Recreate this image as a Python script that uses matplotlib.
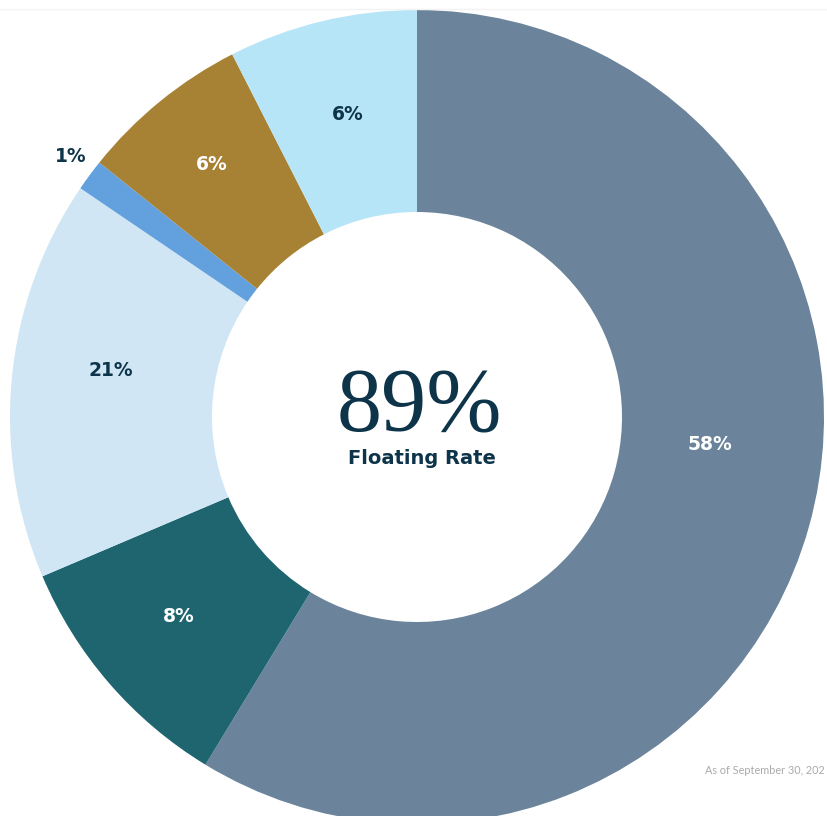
import matplotlib
matplotlib.use("Agg")
import matplotlib.pyplot as plt
from matplotlib.lines import Line2D

categories = ["Slate", "Teal", "Light blue", "Blue", "Gold", "Cyan"]
shares = [58.7, 9.9, 15.9, 1.25, 6.75, 7.5]
labels = ["58%", "8%", "21%", "1%", "6%", "6%"]
center_value = "89%"
center_caption = "Floating Rate"
footnote = "As of September 30, 202"

colors = ["#6B849B", "#1F6570", "#D0E6F5", "#62A0DE", "#A88234", "#B7E5F8"]
label_colors = ["white", "white", "#0D3449", "#0D3449", "white", "#0D3449"]
# label centre positions in pixel coords (x, y from top)
label_pos = [(710, 445), (179, 617), (111, 371), (71, 157), (212, 164), (348, 114)]

W, H = 828, 816
fig = plt.figure(figsize=(W / 100, H / 100), dpi=100)
ax = fig.add_axes([0, 0, 1, 1])

cx, cy, R, r_in = 417, 417, 407, 205
ax.pie(shares, colors=colors, startangle=90, counterclock=False,
       center=(cx, H - cy), radius=R,
       wedgeprops=dict(width=R - r_in, linewidth=0, antialiased=True))
ax.set_xlim(0, W)
ax.set_ylim(0, H)
ax.set_aspect("auto")
ax.axis("off")

for lab, col, (x, y) in zip(labels, label_colors, label_pos):
    ax.text(x, H - y, lab, color=col, fontsize=13.5, fontweight="bold",
            family="DejaVu Sans", ha="center", va="center")

ax.text(419, H - 431, center_value, color="#0D3449", fontsize=65,
        family="Liberation Serif", ha="center", va="baseline")
ax.text(422, H - 464, center_caption, color="#0D3449", fontsize=14,
        fontweight="bold", family="DejaVu Sans", ha="center", va="baseline")

ax.text(825, H - 771, footnote, color="#AAAAAA", fontsize=7.8,
        family="Lato", ha="right", va="center")

fig.add_artist(Line2D([0, 1], [1 - 8.5 / H, 1 - 8.5 / H], color="#F3F3F3", lw=1))

fig.savefig("out.png", dpi=100, facecolor="white")
